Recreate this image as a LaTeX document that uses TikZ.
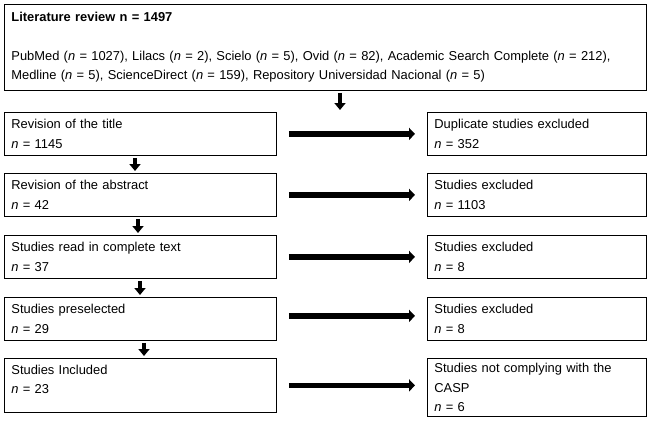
\documentclass[tikz,border=0pt]{standalone}
\usepackage{fontspec}
\setmainfont{Liberation Sans}
\usetikzlibrary{arrows.meta}

\begin{document}
\begin{tikzpicture}[x=1pt, y=-1pt,
	font=\fontsize{12.9}{19.5}\selectfont,
	box/.style={draw, line width=0.8pt, anchor=north west, align=left, inner xsep=7pt, inner ysep=4pt, minimum height=43pt},
	leftbox/.style={box, text width=258pt},
	rightbox/.style={box, text width=205pt},
	bigarrow/.style={line width=5.5pt, -{Triangle[width=12pt,length=6pt]}, shorten <=12pt, shorten >=12pt},
	downarrow/.style={line width=4.5pt, -{Triangle[width=11pt,length=7pt]}, shorten <=2pt, shorten >=2pt}]
	\useasboundingbox (0,0) rectangle (652,421);
	\node[box, text width=628pt, minimum height=86pt] (review) at (4,4) {\textbf{Literature review n = 1497}\\[19.5pt]
		PubMed (\textit{n} = 1027), Lilacs (\textit{n} = 2), Scielo (\textit{n} = 5), Ovid (\textit{n} = 82), Academic Search Complete (\textit{n} = 212),\\
		Medline (\textit{n} = 5), ScienceDirect (\textit{n} = 159), Repository Universidad Nacional (\textit{n} = 5)};
	\node[leftbox] (title) at (4,112) {Revision of the title\\ \textit{n} = 1145};
	\node[leftbox] (abstract) at (4,173) {Revision of the abstract\\ \textit{n} = 42};
	\node[leftbox] (fulltext) at (4,235) {Studies read in complete text\\ \textit{n} = 37};
	\node[leftbox] (presel) at (4,297) {Studies preselected\\ \textit{n} = 29};
	\node[leftbox, minimum height=54pt] (incl) at (4,358) {Studies Included\\ \textit{n} = 23\rule[-12pt]{0pt}{12pt}};
	\node[rightbox] (dup) at (427,112) {Duplicate studies excluded\\ \textit{n} = 352};
	\node[rightbox] (exabs) at (427,173) {Studies excluded\\ \textit{n} = 1103};
	\node[rightbox] (exfull) at (427,235) {Studies excluded\\ \textit{n} = 8};
	\node[rightbox] (expre) at (427,297) {Studies excluded\\ \textit{n} = 8};
	\node[rightbox, minimum height=58pt] (casp) at (427,358) {Studies not complying with the\\ CASP\\ \textit{n} = 6};
	\draw[downarrow] ([xshift=336pt]review.south west) -- ([xshift=336pt]review.south west |- title.north);
	\draw[downarrow] ([xshift=131pt]title.south west) -- ([xshift=131pt]title.south west |- abstract.north);
	\draw[downarrow] ([xshift=134pt]abstract.south west) -- ([xshift=134pt]abstract.south west |- fulltext.north);
	\draw[downarrow] ([xshift=136pt]fulltext.south west) -- ([xshift=136pt]fulltext.south west |- presel.north);
	\draw[downarrow] ([xshift=140pt]presel.south west) -- ([xshift=140pt]presel.south west |- incl.north);
	\draw[bigarrow] (title.east) -- (title.east -| dup.west);
	\draw[bigarrow] (abstract.east) -- (abstract.east -| exabs.west);
	\draw[bigarrow] (fulltext.east) -- (fulltext.east -| exfull.west);
	\draw[bigarrow] ([yshift=3pt]presel.east) -- ([yshift=3pt]presel.east -| expre.west);
	\draw[bigarrow] (incl.east) -- (incl.east -| casp.west);
\end{tikzpicture}
\end{document}
